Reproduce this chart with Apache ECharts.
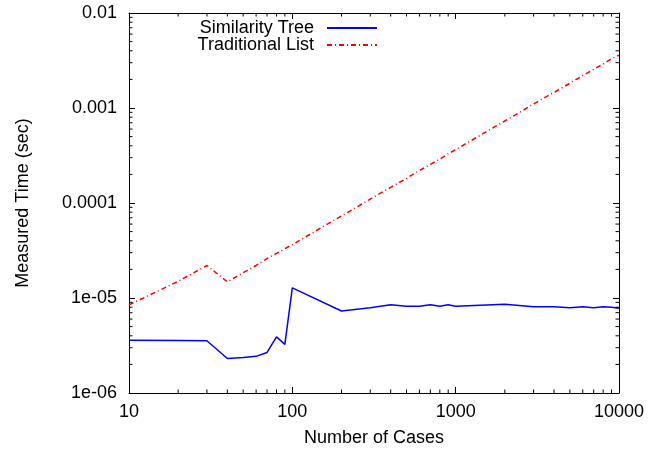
<!DOCTYPE html>
<html>
<head>
<meta charset="utf-8">
<script src="https://cdn.jsdelivr.net/npm/echarts@6/dist/echarts.min.js"></script>
<style>html,body{margin:0;padding:0;background:#fff}#c{width:662px;height:452px}</style>
</head>
<body>
<div id="c"></div>
<script>
const xCases = [10,20,30,40,50,60,70,80,90,100,200,300,400,500,600,700,800,900,1000,2000,3000,4000,5000,6000,7000,8000,9000,10000];
const similarityTree = [3.6e-6,3.58e-6,3.55e-6,2.31e-6,2.37e-6,2.43e-6,2.67e-6,3.9e-6,3.25e-6,1.28e-5,7.3e-6,7.9e-6,8.5e-6,8.2e-6,8.2e-6,8.5e-6,8.2e-6,8.5e-6,8.2e-6,8.6e-6,8.1e-6,8.1e-6,7.9e-6,8.1e-6,7.9e-6,8.1e-6,8.0e-6,7.8e-6];
const traditionalList = [8.45e-6,1.5e-5,2.2e-5,1.48e-5,1.85e-5,2.2e-5,2.6e-5,2.95e-5,3.3e-5,3.65e-5,7.3e-5,1.1e-4,1.46e-4,1.82e-4,2.2e-4,2.55e-4,2.9e-4,3.3e-4,3.65e-4,7.3e-4,1.1e-3,1.46e-3,1.82e-3,2.2e-3,2.55e-3,2.9e-3,3.3e-3,3.6e-3];
const xTickLabels = ['10','100','1000','10000'];
const yTickLabels = ['1e-06','1e-05','0.0001','0.001','0.01'];
const xMinorTicks = [20,30,40,50,60,70,80,90,200,300,400,500,600,700,800,900,2000,3000,4000,5000,6000,7000,8000,9000];
const yMinorTicks = [2e-6,3e-6,4e-6,5e-6,6e-6,7e-6,8e-6,9e-6,2e-5,3e-5,4e-5,5e-5,6e-5,7e-5,8e-5,9e-5,2e-4,3e-4,4e-4,5e-4,6e-4,7e-4,8e-4,9e-4,2e-3,3e-3,4e-3,5e-3,6e-3,7e-3,8e-3,9e-3];

const X_MIN = 10, X_MAX = 10000, Y_MIN = 1e-6, Y_MAX = 0.01;
const FONT = 'Liberation Sans';
const FS = 18;
const chart = echarts.init(document.getElementById('c'));
const lineStyleAxis = {color:'#000', width:1};
const xFmt = v => xTickLabels[Math.round(Math.log10(v)) - 1] || '';
const yFmt = v => yTickLabels[Math.round(Math.log10(v)) + 6] || '';
const MINOR = 3.5;

chart.setOption({
  animation:false,
  backgroundColor:'#fff',
  grid:{left:129,right:43,top:13,bottom:58},
  legend:{
    data:['Similarity Tree','Traditional List'],
    orient:'vertical', align:'right', right:284, top:19, padding:0,
    itemWidth:50, itemHeight:14, itemGap:-1,
    itemStyle:{opacity:0},
    textStyle:{fontFamily:FONT,fontSize:FS,color:'#000',padding:[0,8,0,0]},
    selectedMode:false
  },
  xAxis:[{
    type:'log', logBase:10, min:X_MIN, max:X_MAX,
    name:'Number of Cases', nameLocation:'middle', nameGap:36,
    nameTextStyle:{fontFamily:FONT,fontSize:FS,color:'#000'},
    axisLine:{lineStyle:lineStyleAxis},
    axisTick:{inside:true,length:6,lineStyle:lineStyleAxis},
    axisLabel:{formatter:xFmt,fontFamily:FONT,fontSize:FS,color:'#000',margin:10},
    splitLine:{show:false}
  },{
    type:'log', logBase:10, min:X_MIN, max:X_MAX, position:'top',
    axisLine:{lineStyle:lineStyleAxis},
    axisTick:{inside:true,length:6,lineStyle:lineStyleAxis},
    axisLabel:{show:false}, splitLine:{show:false}
  }],
  yAxis:[{
    type:'log', logBase:10, min:Y_MIN, max:Y_MAX,
    name:'Measured Time (sec)', nameLocation:'middle', nameGap:97,
    nameTextStyle:{fontFamily:FONT,fontSize:FS,color:'#000'},
    axisLine:{lineStyle:lineStyleAxis},
    axisTick:{inside:true,length:6,lineStyle:lineStyleAxis},
    axisLabel:{formatter:yFmt,fontFamily:FONT,fontSize:FS,color:'#000',margin:12},
    splitLine:{show:false}
  },{
    type:'log', logBase:10, min:Y_MIN, max:Y_MAX, position:'right',
    axisLine:{lineStyle:lineStyleAxis},
    axisTick:{inside:true,length:6,lineStyle:lineStyleAxis},
    axisLabel:{show:false}, splitLine:{show:false}
  }],
  series:[
    {
      name:'Similarity Tree', type:'line', symbol:'none', showSymbol:false,
      data:xCases.map((x,i)=>[x,similarityTree[i]]),
      lineStyle:{color:'#0000ff',width:1.5}, itemStyle:{color:'#0000ff'}, z:3
    },
    {
      name:'Traditional List', type:'line', symbol:'none', showSymbol:false,
      data:xCases.map((x,i)=>[x,traditionalList[i]]),
      lineStyle:{color:'#ff0000',width:1.5,type:[5,3,1,3]}, itemStyle:{color:'#ff0000'}, z:3
    },
    {
      type:'custom', silent:true, clip:false, z:4,
      data:xMinorTicks.map(v=>[v,Y_MIN]),
      renderItem:(params, api)=>{
        const v = api.value(0);
        const b = api.coord([v, Y_MIN]);
        const t = api.coord([v, Y_MAX]);
        return {type:'group',children:[
          {type:'line',shape:{x1:b[0],y1:b[1],x2:b[0],y2:b[1]-MINOR},style:{stroke:'#000',lineWidth:1}},
          {type:'line',shape:{x1:t[0],y1:t[1],x2:t[0],y2:t[1]+MINOR},style:{stroke:'#000',lineWidth:1}}
        ]};
      }
    },
    {
      type:'custom', silent:true, clip:false, z:4,
      data:yMinorTicks.map(v=>[X_MIN,v]),
      renderItem:(params, api)=>{
        const v = api.value(1);
        const l = api.coord([X_MIN, v]);
        const r = api.coord([X_MAX, v]);
        return {type:'group',children:[
          {type:'line',shape:{x1:l[0],y1:l[1],x2:l[0]+MINOR,y2:l[1]},style:{stroke:'#000',lineWidth:1}},
          {type:'line',shape:{x1:r[0],y1:r[1],x2:r[0]-MINOR,y2:r[1]},style:{stroke:'#000',lineWidth:1}}
        ]};
      }
    }
  ]
});
</script>
</body>
</html>
